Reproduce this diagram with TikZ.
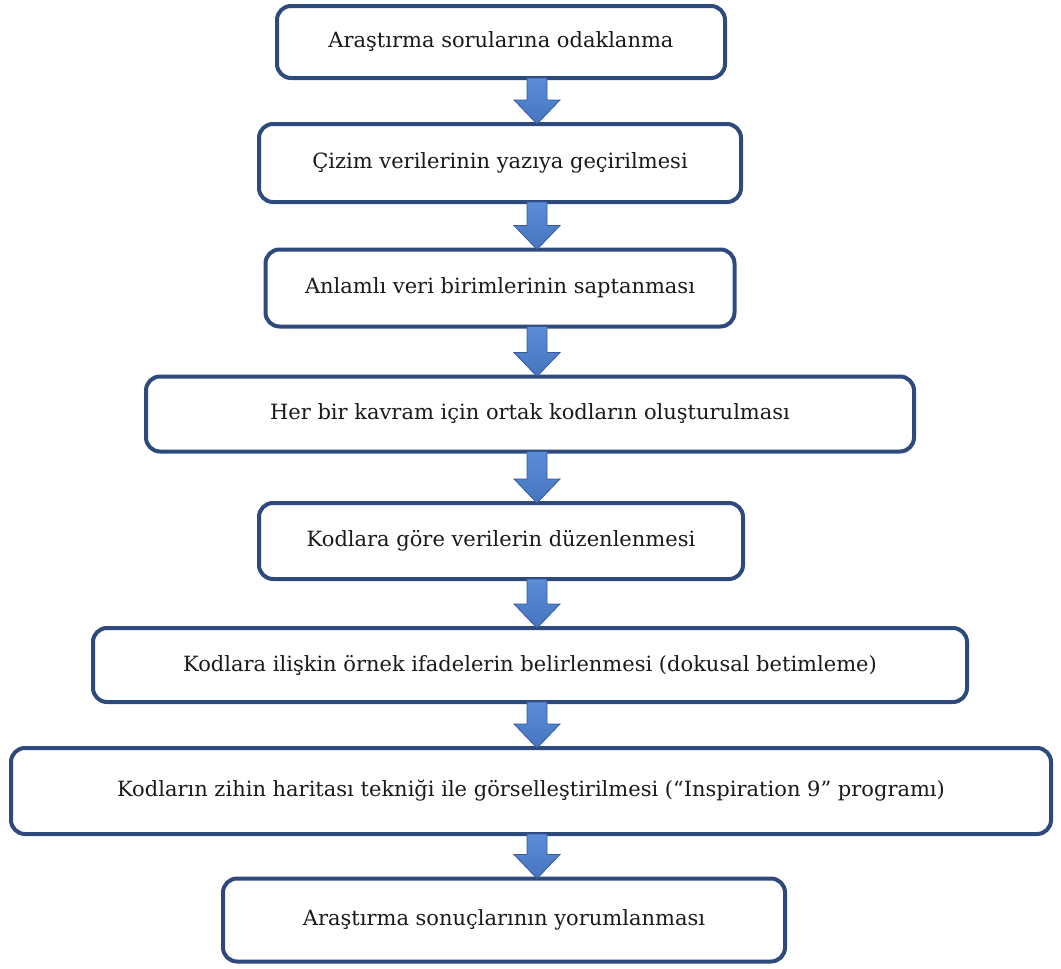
\documentclass[tikz,border=0pt]{standalone}
\usepackage{fontspec}
\setmainfont{DejaVu Serif}
\usetikzlibrary{calc}
\definecolor{boxline}{HTML}{2E4A7C}
\definecolor{arrfill}{HTML}{4575BE}
\definecolor{arrfilltop}{HTML}{5B8DD6}
\definecolor{arrline}{HTML}{345A9C}
\definecolor{txt}{HTML}{1A1A1A}
\tikzset{
  stepbox/.style={draw=boxline, line width=4pt, rounded corners=14pt, fill=white,
    inner sep=0pt, outer sep=0pt, align=center, text=txt,
    font=\fontsize{21}{25}\selectfont},
  fatarrow/.style={draw=arrline, line width=0.8pt, top color=arrfilltop, bottom color=arrfill}
}
\newcommand{\fatarr}[2]{%
  \path[fatarrow] let \p1=(#1.south), \p2=(#2.north) in
    (527pt,\y1) -- (547pt,\y1) -- (547pt,{\y2+24pt}) -- (560pt,{\y2+24pt})
    -- (537pt,\y2) -- (514pt,{\y2+24pt}) -- (527pt,{\y2+24pt}) -- cycle;}
\begin{document}
\begin{tikzpicture}[x=1pt,y=-1pt]
\useasboundingbox (0,0) rectangle (1061,969);
\node[stepbox, minimum width=448pt, minimum height=72pt] (b1) at (501,42) {Araştırma sorularına odaklanma};
\node[stepbox, minimum width=482pt, minimum height=78pt] (b2) at (500,163) {Çizim verilerinin yazıya geçirilmesi};
\node[stepbox, minimum width=469pt, minimum height=77pt] (b3) at (500,288) {Anlamlı veri birimlerinin saptanması};
\node[stepbox, minimum width=768pt, minimum height=75pt] (b4) at (530,414) {Her bir kavram için ortak kodların oluşturulması};
\node[stepbox, minimum width=484pt, minimum height=76pt] (b5) at (501,541) {Kodlara göre verilerin düzenlenmesi};
\node[stepbox, minimum width=874pt, minimum height=74pt] (b6) at (530,665) {Kodlara ilişkin örnek ifadelerin belirlenmesi (dokusal betimleme)};
\node[stepbox, minimum width=1040pt, minimum height=86pt] (b7) at (531,791) {Kodların zihin haritası tekniği ile görselleştirilmesi (“Inspiration 9” programı)};
\node[stepbox, minimum width=562pt, minimum height=83pt] (b8) at (504,920) {Araştırma sonuçlarının yorumlanması};
\fatarr{b1}{b2}
\fatarr{b2}{b3}
\fatarr{b3}{b4}
\fatarr{b4}{b5}
\fatarr{b5}{b6}
\fatarr{b6}{b7}
\fatarr{b7}{b8}
\end{tikzpicture}
\end{document}
